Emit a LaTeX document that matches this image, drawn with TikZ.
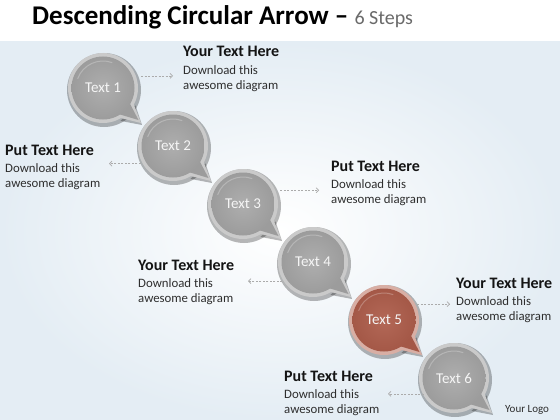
\documentclass[tikz,border=0pt]{standalone}
\usepackage{fontspec}
\setmainfont{Carlito}
\usetikzlibrary{arrows.meta,calc}
\definecolor{bgblue}{HTML}{E4EDF4}
\definecolor{gbody}{HTML}{9C9C9C}
\definecolor{glight}{HTML}{AEAEAE}
\definecolor{grim}{HTML}{CACACA}
\definecolor{rbody}{HTML}{A45847}
\definecolor{rlight}{HTML}{B36857}
\definecolor{rrim}{HTML}{D8AEA4}
\definecolor{arrowgray}{HTML}{ABABAB}
\definecolor{titlegray}{HTML}{6A6A6A}
\definecolor{bodytext}{HTML}{2E2E2E}
\tikzset{
  lbl/.style={circle, minimum size=70pt, inner sep=0pt, text=white!96!black,
    font=\fontsize{15}{17}\selectfont},
  headtxt/.style={anchor=base west, inner sep=0pt, text=black!92,
    font=\bfseries\fontsize{16}{18}\selectfont},
  bodytxt/.style={anchor=base west, inner sep=0pt, text=bodytext, align=left,
    font=\fontsize{12.8}{15}\selectfont},
  dasharrow/.style={draw=arrowgray, dash pattern=on 2pt off 1.5pt, line width=0.7pt,
    -{Straight Barb[length=2.5pt,width=5pt]}},
}
\begin{document}
\begin{tikzpicture}[x=1pt,y=-1pt]
\useasboundingbox (0,0) rectangle (560,420);
\fill[white] (0,0) rectangle (560,42);
\shade[inner color=white, outer color=bgblue] (0,42) rectangle (560,420);

% title
\node[anchor=base west, inner sep=0pt] (title) at (32,25)
  {\fontsize{27}{30}\selectfont\bfseries Descending Circular Arrow --\ \mdseries\color{titlegray}\fontsize{20}{24}\selectfont 6 Steps};

% bubbles
\foreach \i/\x/\y/\bd/\lt/\rm in {1/103/88/gbody/glight/grim,2/173/146/gbody/glight/grim,3/243/204/gbody/glight/grim,4/313/262/gbody/glight/grim,5/384/320/rbody/rlight/rrim,6/454/378/gbody/glight/grim}{
  \begin{scope}[shift={(\x,\y)}]
    \fill[black,opacity=.28] (1,2) circle (37);
    \fill[black,opacity=.28] ($(1,2)+(26:35)$) -- (39,37) -- ($(1,2)+(62:35)$) -- cycle;
    \fill[\rm] (0,0) circle (35);
    \fill[\rm] (27:34) -- (38,35) -- (61:34) -- cycle;
    \fill[\bd] (30:31) -- (35.5,32) -- (58:31) -- cycle;
    \shade[inner color=\lt, outer color=\bd] (0,0) circle (31.5);
    \draw[white,opacity=.25,line width=1pt] (200:27) arc[start angle=200,end angle=290,radius=27];
  \end{scope}
  \node[lbl] (c\i) at (\x,\y) {Text \i};
}

% text blocks (body node anchored at baseline of its last line)
\node[headtxt] (h1) at (183,57) {Your Text Here};
\node[bodytxt] (b1) at (183,90) {Download this\\awesome diagram};
\node[headtxt] (h2) at (5,155) {Put Text Here};
\node[bodytxt] (b2) at (5,187) {Download this\\awesome diagram};
\node[headtxt] (h3) at (331,171) {Put Text Here};
\node[bodytxt] (b3) at (331,203) {Download this\\awesome diagram};
\node[headtxt] (h4) at (138,270) {Your Text Here};
\node[bodytxt] (b4) at (138,302) {Download this\\awesome diagram};
\node[headtxt] (h5) at (456,288) {Your Text Here};
\node[bodytxt] (b5) at (456,320) {Download this\\awesome diagram};
\node[headtxt] (h6) at (284,381) {Put Text Here};
\node[bodytxt] (b6) at (284,413) {Download this\\awesome diagram};
\node[anchor=base west, inner sep=0pt, text=bodytext, font=\fontsize{11}{13}\selectfont] (logo) at (505,412) {Your Logo};

% arrow ends
\coordinate (e1) at (173,0);
\coordinate (e2) at (109,0);
\coordinate (e3) at (319,0);
\coordinate (e4) at (248,0);
\coordinate (e5) at (450,0);
\coordinate (e6) at (388,0);
\draw[dasharrow] ([xshift=5pt]c1.20) -- (e1 |- c1.20);
\draw[dasharrow] ([xshift=-2pt]c2.210) -- (e2 |- c2.210);
\draw[dasharrow] ([xshift=5pt]c3.23) -- (e3 |- c3.23);
\draw[dasharrow] ([xshift=-1pt]c4.213) -- (e4 |- c4.213);
\draw[dasharrow] ([xshift=2pt]c5.27) -- (e5 |- c5.27);
\draw[dasharrow] ([xshift=1pt]c6.207) -- (e6 |- c6.207);
\end{tikzpicture}
\end{document}
